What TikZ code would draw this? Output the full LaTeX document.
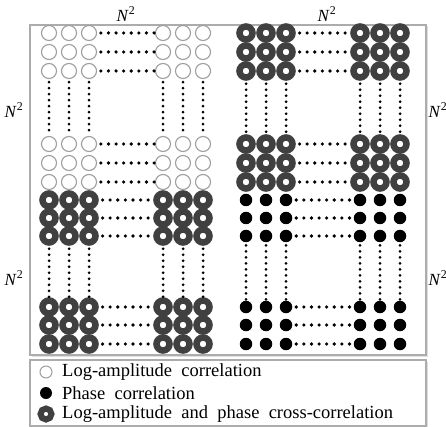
\documentclass[tikz,border=0pt]{standalone}
\usepackage{fontspec}
\setmainfont{Liberation Serif}
\usetikzlibrary{shadows}

\tikzset{
	open/.style={circle,draw=gray!75,fill=white,line width=1.1pt,minimum size=15pt,inner sep=0pt},
	ring/.style={circle,draw=black!75,fill=white,line width=6.5pt,minimum size=13pt,inner sep=0pt},
	full/.style={circle,fill=black,minimum size=12.5pt,inner sep=0pt},
	hdots/.style={line width=3.6pt,line cap=round,dash pattern=on 0pt off 7.6pt,dash phase=3.8pt},
	vdots/.style={line width=3pt,line cap=round,dash pattern=on 0pt off 6pt,dash phase=3pt},
	frame/.style={rectangle,draw=gray!65,line width=1.3pt,fill=white,inner sep=0pt,
		drop shadow={opacity=0.25,shadow xshift=1.5pt,shadow yshift=-1.5pt}},
	dim/.style={font=\fontsize{17}{17}\selectfont},
	key/.style={anchor=west,inner sep=0pt,font=\fontsize{18.5}{18.5}\selectfont}
}

\begin{document}
\begin{tikzpicture}[x=1pt,y=-1pt]
	\useasboundingbox (0,0) rectangle (446,427);

	\node[frame,minimum width=396pt,minimum height=330pt] (panel) at (228,190) {};
	\node[frame,minimum width=396pt,minimum height=66pt] (legend) at (228,393) {};

	% correlation matrix blocks
	\foreach \blk/\sty/\dx/\rows in {
		tl/open/0/{33,52,71,144,163,182},
		tr/ring/197/{33,52,71,144,163,182},
		bl/ring/0/{200,218,236,307,325,344},
		br/full/197/{200,218,236,307,325,344}}
	{
		\foreach \y [count=\r] in \rows
			\foreach \x [count=\c] in {49,69,89,163,183,203}
				\node[\sty] (\blk-\r-\c) at (\x+\dx,\y) {};
		\foreach \r in {1,...,6}
			\draw[hdots] (\blk-\r-3) -- (\blk-\r-4);
		\foreach \c in {1,...,6}
			\draw[vdots] (\blk-3-\c) -- (\blk-4-\c);
	}

	\node[dim] (ntl) at (126,14) {\textit{N}\textsuperscript{2}};
	\node[dim] (ntr) at (327,14) {\textit{N}\textsuperscript{2}};
	\node[dim] (nlt) at (14,110) {\textit{N}\textsuperscript{2}};
	\node[dim] (nlb) at (14,278) {\textit{N}\textsuperscript{2}};
	\node[dim] (nrt) at (438,110) {\textit{N}\textsuperscript{2}};
	\node[dim] (nrb) at (438,278) {\textit{N}\textsuperscript{2}};

	% legend
	\node[open,minimum size=12pt,line width=1pt] (k1) at (46,372) {};
	\node[full,minimum size=12pt] (k2) at (46,393) {};
	\node[ring,minimum size=11pt,line width=6pt] (k3) at (46,414) {};
	\node[key] (t1) at (62,372) {Log-amplitude\ \ correlation};
	\node[key] (t2) at (62,393) {Phase\ \ correlation};
	\node[key] (t3) at (62,414) {Log-amplitude\ \ and\ \ phase\ \ cross-correlation};
\end{tikzpicture}
\end{document}
